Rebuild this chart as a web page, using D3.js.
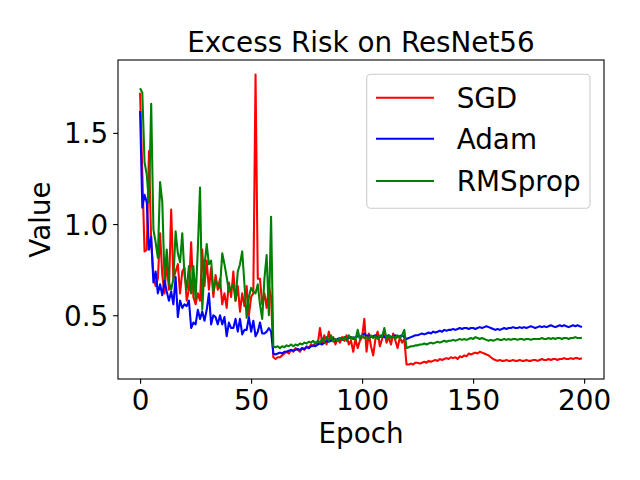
<!DOCTYPE html>
<html>
<head>
<meta charset="utf-8">
<script src="https://cdn.jsdelivr.net/npm/d3@7"></script>
<style>
  html, body { margin: 0; padding: 0; background: #fff; }
  svg { display: block; font-family: "DejaVu Sans", sans-serif; }
</style>
</head>
<body>
<svg id="chart" width="640" height="480"></svg>
<script>
const title = "Excess Risk on ResNet56";
const xLabel = "Epoch";
const yLabel = "Value";
const seriesNames = ["SGD", "Adam", "RMSprop"];
const seriesColors = ["#ff0000", "#0000ff", "#008000"];
const xTicks = [0, 50, 100, 150, 200];
const yTicks = [0.5, 1.0, 1.5];

const sgd = [
  1.72,1.28,0.85,0.86,1.40,0.90,0.72,0.66,0.70,0.95,
  0.72,0.62,0.80,0.64,1.08,0.70,0.74,0.78,0.62,0.74,
  0.76,0.58,0.64,0.90,0.60,0.56,0.62,0.58,0.86,0.66,
  0.80,0.64,0.76,0.60,0.72,0.64,0.70,0.56,0.62,0.54,
  0.68,0.60,0.74,0.58,0.66,0.52,0.62,0.55,0.66,0.50,
  0.60,0.62,1.82,0.70,0.70,0.56,0.62,0.54,0.66,0.60,
  0.27,0.26,0.27,0.27,0.28,0.29,0.30,0.29,0.31,0.30,
  0.32,0.31,0.30,0.32,0.31,0.33,0.32,0.34,0.33,0.35,
  0.34,0.43,0.35,0.39,0.34,0.41,0.36,0.38,0.34,0.37,
  0.35,0.38,0.36,0.39,0.34,0.36,0.30,0.37,0.32,0.36,
  0.38,0.48,0.30,0.40,0.33,0.28,0.37,0.41,0.33,0.37,
  0.41,0.35,0.38,0.34,0.40,0.36,0.32,0.38,0.35,0.37,
  0.23,0.23,0.235,0.23,0.24,0.24,0.235,0.24,0.245,0.24,
  0.25,0.245,0.25,0.255,0.25,0.26,0.255,0.26,0.265,0.26,
  0.27,0.265,0.27,0.26,0.275,0.27,0.28,0.275,0.29,0.285,
  0.29,0.295,0.29,0.30,0.295,0.29,0.285,0.28,0.27,0.26,
  0.255,0.25,0.255,0.25,0.25,0.255,0.25,0.25,0.255,0.25,
  0.25,0.255,0.25,0.25,0.255,0.25,0.25,0.255,0.255,0.25,
  0.255,0.26,0.255,0.255,0.26,0.255,0.26,0.26,0.255,0.26,
  0.26,0.265,0.26,0.26,0.265,0.26,0.265,0.265,0.26,0.264
];

const adam = [
  1.62,1.09,1.16,1.12,0.86,0.93,0.68,0.74,0.62,0.67,
  0.61,0.69,0.63,0.58,0.63,0.56,0.71,0.49,0.58,0.54,
  0.56,0.55,0.58,0.43,0.46,0.45,0.53,0.48,0.52,0.47,
  0.53,0.62,0.45,0.50,0.49,0.45,0.50,0.45,0.49,0.385,
  0.46,0.43,0.43,0.48,0.41,0.48,0.395,0.42,0.42,0.49,
  0.41,0.47,0.385,0.41,0.46,0.40,0.40,0.41,0.43,0.41,
  0.29,0.285,0.29,0.295,0.29,0.30,0.30,0.305,0.31,0.305,
  0.31,0.315,0.31,0.32,0.315,0.325,0.32,0.33,0.335,0.33,
  0.34,0.345,0.34,0.35,0.36,0.355,0.36,0.37,0.36,0.37,
  0.375,0.365,0.38,0.37,0.375,0.38,0.37,0.38,0.385,0.38,
  0.39,0.40,0.385,0.39,0.38,0.385,0.39,0.375,0.38,0.39,
  0.38,0.385,0.39,0.38,0.385,0.39,0.38,0.385,0.39,0.38,
  0.37,0.375,0.38,0.385,0.39,0.39,0.395,0.40,0.395,0.40,
  0.405,0.40,0.41,0.405,0.41,0.415,0.41,0.42,0.415,0.42,
  0.42,0.425,0.42,0.425,0.43,0.425,0.43,0.43,0.425,0.43,
  0.43,0.425,0.43,0.435,0.43,0.435,0.44,0.435,0.43,0.425,
  0.42,0.425,0.42,0.425,0.43,0.425,0.43,0.43,0.435,0.43,
  0.43,0.435,0.43,0.435,0.43,0.435,0.44,0.435,0.43,0.435,
  0.44,0.435,0.44,0.435,0.44,0.445,0.44,0.435,0.44,0.445,
  0.44,0.445,0.44,0.435,0.44,0.445,0.44,0.445,0.44,0.436
];

const rmsprop = [
  1.745,1.72,1.34,1.27,1.12,1.66,0.97,0.90,0.815,1.23,
  1.12,0.70,0.86,0.68,0.64,0.70,0.96,0.84,0.79,0.95,
  0.72,0.64,0.77,0.62,0.77,0.59,0.86,1.20,0.53,0.77,
  0.89,0.78,0.80,0.63,0.69,0.67,0.65,0.84,0.78,0.71,
  0.63,0.65,0.67,0.58,0.74,0.78,0.85,0.67,0.486,0.60,
  0.65,0.63,0.62,0.67,0.56,0.48,0.70,0.83,0.50,1.04,
  0.33,0.325,0.33,0.32,0.33,0.325,0.335,0.33,0.34,0.33,
  0.34,0.335,0.345,0.34,0.35,0.345,0.355,0.35,0.36,0.345,
  0.36,0.35,0.37,0.355,0.38,0.36,0.39,0.355,0.37,0.36,
  0.375,0.365,0.38,0.36,0.39,0.37,0.38,0.365,0.42,0.37,
  0.39,0.375,0.38,0.37,0.39,0.375,0.385,0.37,0.39,0.38,
  0.43,0.37,0.39,0.375,0.385,0.37,0.39,0.375,0.39,0.42,
  0.32,0.325,0.33,0.33,0.335,0.335,0.34,0.34,0.345,0.34,
  0.345,0.35,0.345,0.35,0.355,0.35,0.355,0.36,0.355,0.36,
  0.36,0.365,0.36,0.365,0.37,0.365,0.37,0.365,0.37,0.375,
  0.37,0.38,0.375,0.37,0.375,0.37,0.365,0.36,0.365,0.36,
  0.365,0.37,0.365,0.365,0.37,0.365,0.37,0.365,0.37,0.37,
  0.365,0.37,0.37,0.365,0.37,0.37,0.365,0.37,0.37,0.37,
  0.37,0.375,0.37,0.37,0.375,0.37,0.375,0.37,0.375,0.375,
  0.37,0.375,0.375,0.37,0.375,0.375,0.38,0.375,0.375,0.376
];

const allSeries = [sgd, adam, rmsprop];

const svg = d3.select("#chart");
const W = 640, H = 480;
const m = { left: 118, right: 604, top: 60, bottom: 379 };

const n = sgd.length;
const allVals = allSeries.flat();
const yMin = d3.min(allVals), yMax = d3.max(allVals);
const yPad = (yMax - yMin) * 0.05;
const xPad = (n - 1) * 0.05;

const x = d3.scaleLinear().domain([0 - xPad, n - 1 + xPad]).range([m.left, m.right]);
const y = d3.scaleLinear().domain([yMin - yPad, yMax + yPad]).range([m.bottom, m.top]);

const fontSize = 27.8;

// clip
svg.append("defs").append("clipPath").attr("id", "clip")
  .append("rect").attr("x", m.left).attr("y", m.top)
  .attr("width", m.right - m.left).attr("height", m.bottom - m.top);

const line = d3.line().x((d, i) => x(i)).y(d => y(d));

const plot = svg.append("g").attr("clip-path", "url(#clip)");
allSeries.forEach((s, k) => {
  plot.append("path")
    .datum(s)
    .attr("fill", "none")
    .attr("stroke", seriesColors[k])
    .attr("stroke-width", 2.08)
    .attr("stroke-linejoin", "round")
    .attr("stroke-linecap", "butt")
    .attr("d", line);
});

// axes
const xAxis = d3.axisBottom(x).tickValues(xTicks).tickSize(4.86).tickPadding(4.86).tickFormat(d3.format("d"));
const yAxis = d3.axisLeft(y).tickValues(yTicks).tickSize(4.86).tickPadding(4.86).tickFormat(d3.format(".1f"));

const gx = svg.append("g").attr("transform", `translate(0,${m.bottom})`).call(xAxis);
const gy = svg.append("g").attr("transform", `translate(${m.left},0)`).call(yAxis);
[gx, gy].forEach(g => {
  g.select(".domain").remove();
  g.selectAll(".tick line").attr("stroke", "#000").attr("stroke-width", 1.1);
  g.selectAll(".tick text").attr("fill", "#000")
    .style("font-family", "DejaVu Sans").style("font-size", fontSize + "px");
});
gx.selectAll(".tick text").attr("dy", "0.76em");
gy.selectAll(".tick text").attr("dy", "0.36em");

// spines
svg.append("rect")
  .attr("x", m.left).attr("y", m.top)
  .attr("width", m.right - m.left).attr("height", m.bottom - m.top)
  .attr("fill", "none").attr("stroke", "#000").attr("stroke-width", 1.1);

// labels
svg.append("text").attr("x", (m.left + m.right) / 2).attr("y", 51.7)
  .attr("text-anchor", "middle").style("font-size", fontSize + "px").text(title);
svg.append("text").attr("x", (m.left + m.right) / 2).attr("y", 443)
  .attr("text-anchor", "middle").style("font-size", fontSize + "px").text(xLabel);
svg.append("text")
  .attr("transform", `translate(50,${(m.top + m.bottom) / 2}) rotate(-90)`)
  .attr("text-anchor", "middle").style("font-size", fontSize + "px").text(yLabel);

// legend
const lg = svg.append("g");
lg.append("rect").attr("x", 366.7).attr("y", 74.3).attr("width", 223.3).attr("height", 134)
  .attr("rx", 4).attr("ry", 4)
  .attr("fill", "#fff").attr("fill-opacity", 0.8)
  .attr("stroke", "#cccccc").attr("stroke-width", 1.1);
const legendY = [97.7, 138.7, 181];
seriesNames.forEach((name, k) => {
  lg.append("line").attr("x1", 376).attr("x2", 434)
    .attr("y1", legendY[k]).attr("y2", legendY[k])
    .attr("stroke", seriesColors[k]).attr("stroke-width", 2.08);
  lg.append("text").attr("x", 456.7).attr("y", legendY[k]).attr("dy", "0.36em")
    .style("font-size", fontSize + "px").text(name);
});
</script>
</body>
</html>
